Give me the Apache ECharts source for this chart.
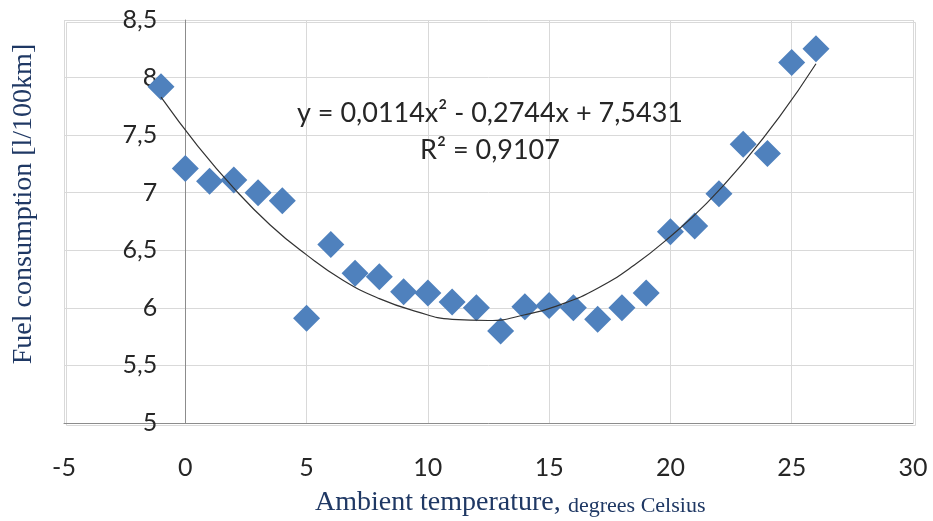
<!DOCTYPE html>
<html><head><meta charset="utf-8">
<script src="https://cdn.jsdelivr.net/npm/echarts@6/dist/echarts.min.js"></script>
<style>html,body{margin:0;padding:0;background:#fff}#c{width:933px;height:521px}</style>
</head><body><div id="c"></div>
<script>
const temperatures = [-1,0,1,2,3,4,5,6,7,8,9,10,11,12,13,14,15,16,17,18,19,20,21,22,23,24,25,26];
const consumption = [7.92,7.21,7.10,7.11,7.00,6.93,5.91,6.55,6.30,6.27,6.14,6.13,6.05,6.00,5.80,6.01,6.02,6.00,5.90,6.00,6.13,6.66,6.71,6.99,7.42,7.34,8.13,8.25];
// Polynomial trend line as drawn
const trendX = [-1,0.5,2,3.5,5,6.5,8,9.5,11,12.5,14,15.5,17,18.5,20,21.5,23,24.5,26];
const trendY = [7.83,7.41,7.04,6.72,6.46,6.24,6.08,5.97,5.90,5.89,5.94,6.03,6.17,6.37,6.62,6.91,7.26,7.66,8.12];
// Axis ticks
const xTicks = [-5,0,5,10,15,20,25,30];
const yTicks = ['5','5,5','6','6,5','7','7,5','8','8,5'];
const equationText = 'y = 0,0114x\u00b2 - 0,2744x + 7,5431';
const r2Text = 'R\u00b2 = 0,9107';
const yTitle = 'Fuel consumption [l/100km]';
const xTitleMain = 'Ambient temperature,';
const xTitleUnit = 'degrees Celsius';

const chart = echarts.init(document.getElementById('c'), null, {renderer:'canvas'});
const labelFont = 'Lato';
const gridLeft = 64, gridWidth = 849;
// y axis crosses the x axis at 0
const yAxisOffset = -gridWidth * (0 - xTicks[0]) / (xTicks[xTicks.length-1] - xTicks[0]);
chart.setOption({
  animation: false,
  backgroundColor: '#ffffff',
  grid: {left: gridLeft, right: 20, top: 20, bottom: 98, containLabel: false},
  xAxis: {
    type: 'value', min: xTicks[0], max: xTicks[xTicks.length-1], interval: 5,
    axisLine: {show: true, onZero: false, lineStyle: {color: '#8c8c8c', width: 1}},
    axisTick: {show: false},
    splitLine: {show: true, lineStyle: {color: '#d9d9d9', width: 1}},
    axisLabel: {margin: 32, fontFamily: labelFont, fontSize: 25, color: '#262626'}
  },
  yAxis: {
    type: 'value', min: 5, max: 8.5, interval: 0.5, offset: yAxisOffset,
    axisLine: {show: true, onZero: false, lineStyle: {color: '#8c8c8c', width: 1}},
    axisTick: {show: false},
    splitLine: {show: true, lineStyle: {color: '#d9d9d9', width: 1}},
    axisLabel: {margin: 28, fontFamily: labelFont, fontSize: 25, color: '#262626',
      formatter: function (v) { return yTicks[Math.round((v - 5) / 0.5)]; }}
  },
  graphic: [
    {type: 'rect', left: gridLeft, top: 20, z: -1, shape: {width: gridWidth, height: 403}, style: {fill: 'none', stroke: '#d9d9d9', lineWidth: 1}},
    {type: 'text', x: 24, y: 204, rotation: Math.PI/2, z: 10,
      style: {text: yTitle, font: '28px "Liberation Serif"', fill: '#1F3864', align: 'center', verticalAlign: 'middle'}},
    {type: 'text', x: 315, y: 503, z: 10,
      style: {text: xTitleMain, font: '28px "Liberation Serif"', fill: '#1F3864', align: 'left', verticalAlign: 'middle'}},
    {type: 'text', x: 568, y: 506, z: 10,
      style: {text: xTitleUnit, font: '22px "Liberation Serif"', fill: '#1F3864', align: 'left', verticalAlign: 'middle'}},
    {type: 'text', x: 490, y: 113, z: 10,
      style: {text: equationText, font: '27px Lato', fill: '#262626', align: 'center', verticalAlign: 'middle'}},
    {type: 'text', x: 490, y: 150, z: 10,
      style: {text: r2Text, font: '27px Lato', fill: '#262626', align: 'center', verticalAlign: 'middle'}}
  ],
  series: [
    {
      type: 'scatter', symbol: 'diamond', symbolSize: 27,
      itemStyle: {color: '#4F81BD', opacity: 1},
      data: temperatures.map((t, i) => [t, consumption[i]]), z: 2
    },
    {
      type: 'line', smooth: true, showSymbol: false, silent: true,
      lineStyle: {color: '#333333', width: 1.2},
      data: trendX.map((t, i) => [t, trendY[i]]), z: 3
    }
  ]
});
</script>
</body></html>
